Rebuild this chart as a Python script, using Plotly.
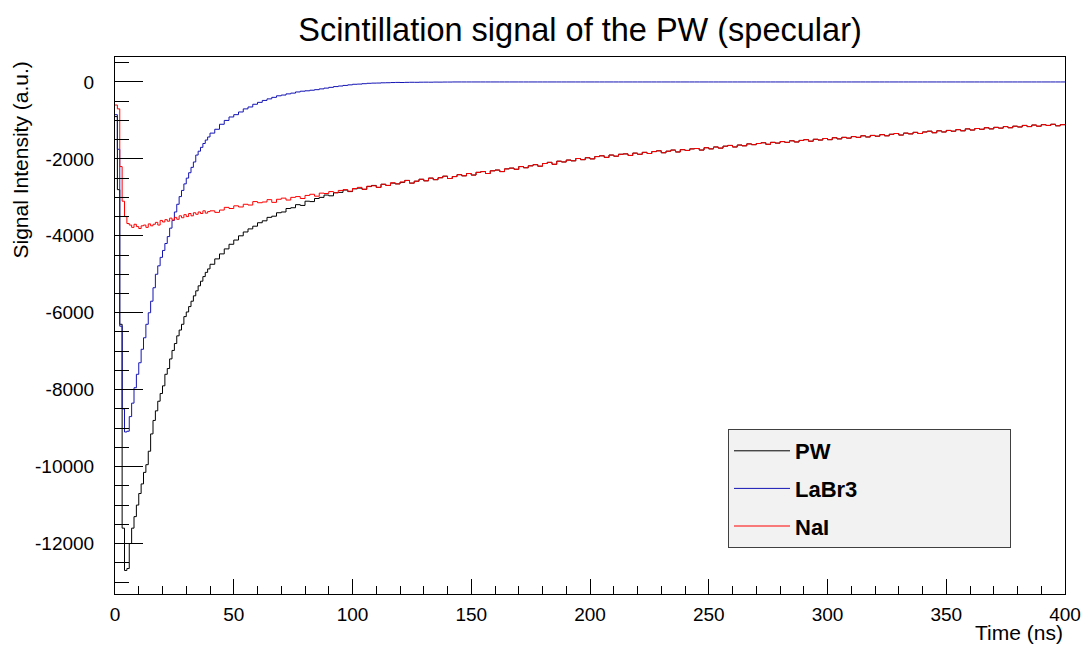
import numpy as np
import plotly.graph_objects as go

# ---------------- data ----------------
# bins: 1 ns wide from 0 to 40 ns, 2 ns wide from 40 to 400 ns
bin_lo_fine = list(range(0, 40, 1))
bin_lo_coarse = list(range(40, 400, 2))
t_end = 400

# LaBr3 (blue)
labr3 = [
    -850, -1750, -6350, -8500, -9100, -9080, -8700, -8350, -7950, -7600,
    -7300, -6950, -6650, -6300, -6000, -5700, -5350, -5000, -4780, -4560,
    -4380, -4200, -4020, -3800, -3600, -3380, -3180, -2980, -2820, -2650,
    -2500, -2360, -2220, -2080, -1900, -1800, -1700, -1600, -1510, -1430,
    # 2 ns bins from 40 ns
    -1330, -1230, -1100, -1000, -910, -850, -780, -700, -650, -580,
    -530, -480, -440, -400, -360, -340, -310, -290, -260, -240,
    -230, -215, -200, -180, -160, -140, -120, -105, -90, -75,
    -60, -55, -45, -35, -30, -28, -22, -20, -15, -12,
    -14, -10, -8, -9, -6, -5, -6, -3, -4, -2,
    -2, 0, 0, 0, 0, 0, 0, 0, 0, 0,
    0, 0, 0, 0, 0, 0, 0, 0, 0, 0,
    0, 0, 0, 0, 0, 0, 0, 0, 0, 0,
    0, 0, 0, 0, 0, 0, 0, 0, 0, 0,
    0, 0, 0, 0, 0, 0, 0, 0, 0, 0,
    0, 0, 0, 0, 0, 0, 0, 0, 0, 0,
    0, 0, 0, 0, 0, 0, 0, 0, 0, 0,
    0, 0, 0, 0, 0, 0, 0, 0, 0, 0,
    0, 0, 0, 0, 0, 0, 0, 0, 0, 0,
    0, 0, 0, 0, 0, 0, 0, 0, 0, 0,
    0, 0, 0, 0, 0, 0, 0, 0, 0, 0,
    0, 0, 0, 0, 0, 0, 0, 0, 0, 0,
    0, 0, 0, 0, 0, 0, 0, 0, 0, 0,
    0, 0, 0, 0, 0, 0, 0, 0, 0,
]

# NaI (red)
nai = [
    -600, -700, -2200, -3100, -3500, -3680, -3720, -3780, -3700, -3760,
    -3810, -3740, -3720, -3780, -3690, -3740, -3700, -3650, -3720, -3600,
    -3640, -3580, -3620, -3540, -3590, -3520, -3570, -3480, -3530, -3450,
    -3500, -3420, -3480, -3400, -3440, -3380, -3420, -3350, -3410, -3370,
    # 2 ns bins from 40 ns
    -3350, -3390, -3330, -3260, -3290, -3220, -3250, -3180, -3200, -3110,
    -3140, -3120, -3060, -3130, -3050, -3020, -3070, -3000, -2980, -3030,
    -2950, -2920, -2970, -2890, -2900, -2850, -2880, -2820, -2800, -2840,
    -2770, -2740, -2790, -2710, -2700, -2740, -2660, -2690, -2620, -2650,
    -2600, -2560, -2630, -2580, -2530, -2570, -2500, -2540, -2490, -2450,
    -2510, -2460, -2410, -2440, -2380, -2420, -2350, -2330, -2380, -2310,
    -2290, -2330, -2260, -2240, -2270, -2200, -2230, -2180, -2150, -2190,
    -2120, -2090, -2140, -2060, -2080, -2030, -2050, -1990, -2020, -1970,
    -2000, -1940, -1920, -1960, -1900, -1930, -1880, -1870, -1910, -1850,
    -1880, -1830, -1860, -1810, -1790, -1840, -1800, -1770, -1820, -1760,
    -1780, -1740, -1730, -1770, -1710, -1740, -1690, -1720, -1670, -1650,
    -1690, -1640, -1660, -1610, -1630, -1600, -1580, -1620, -1570, -1590,
    -1550, -1570, -1530, -1560, -1520, -1500, -1540, -1490, -1510, -1470,
    -1500, -1450, -1480, -1440, -1460, -1420, -1440, -1400, -1430, -1390,
    -1410, -1370, -1400, -1360, -1340, -1380, -1330, -1350, -1310, -1340,
    -1300, -1280, -1320, -1270, -1300, -1260, -1280, -1240, -1270, -1220,
    -1250, -1210, -1230, -1190, -1220, -1180, -1200, -1160, -1190, -1150,
    -1170, -1130, -1160, -1120, -1150, -1110, -1130, -1100, -1140, -1110,
]

# PW (black): early part read separately; from 126 ns on it lies under the NaI curve
pw_early = [
    -900, -2800, -6300, -11600, -12700, -12650, -12000, -11600, -11300, -11000,
    -10700, -10450, -10150, -9950, -9600, -9150, -8800, -8550, -8300, -8100,
    -7900, -7600, -7450, -7200, -6980, -6800, -6600, -6450, -6300, -6100,
    -5980, -5840, -5700, -5560, -5430, -5300, -5180, -5060, -4950, -4860,
    # 2 ns bins from 40 ns to 124 ns
    -4740, -4600, -4470, -4340, -4220, -4110, -4000, -3900, -3820, -3750,
    -3660, -3610, -3520, -3490, -3400, -3380, -3290, -3270, -3190, -3210,
    -3100, -3110, -3030, -3000, -2940, -2960, -2880, -2870, -2810, -2850,
    -2780, -2760, -2790, -2720, -2690, -2740, -2660, -2690, -2630, -2650,
    -2610, -2560, -2630,
]
pw = pw_early + nai[len(pw_early):]

series_names = ["PW", "LaBr3", "NaI"]
series_values = [pw, labr3, nai]
series_colors = ["#000000", "#1414b4", "#ff0000"]

y_tick_vals = [0, -2000, -4000, -6000, -8000, -10000, -12000]
y_tick_text = ["0", "-2000", "-4000", "-6000", "-8000", "-10000", "-12000"]
x_tick_vals = [0, 50, 100, 150, 200, 250, 300, 350, 400]
x_tick_text = ["0", "50", "100", "150", "200", "250", "300", "350", "400"]

# ---------------- figure ----------------
bin_lo = bin_lo_fine + bin_lo_coarse
x_steps = bin_lo + [t_end]

fig = go.Figure()
pad = "\u00a0" * 24
for name, vals, col in zip(series_names, series_values, series_colors):
    fig.add_trace(go.Scatter(
        x=x_steps, y=list(vals) + [vals[-1]],
        mode="lines", line=dict(shape="hv", color=col, width=1),
        name=name + pad, legendgroup=name,
    ))

fig.update_layout(
    width=1087, height=648, autosize=False,
    margin=dict(l=115, r=22, t=57, b=54, autoexpand=False),
    paper_bgcolor="white", plot_bgcolor="white",
    font=dict(family="Liberation Sans, Arial, sans-serif", color="black"),
    title=dict(text="Scintillation signal of the PW (specular)",
               x=580 / 1087, xanchor="center", xref="container",
               y=1 - 30 / 648, yanchor="middle", yref="container",
               font=dict(size=32.5, color="black")),
    showlegend=True,
    legend=dict(x=(728 - 115) / 950, y=(594 - 429) / 537,
                xanchor="left", yanchor="top",
                bgcolor="#f2f2f2", bordercolor="#404040", borderwidth=1,
                font=dict(size=22, weight="bold", color="black"),
                itemwidth=56, traceorder="grouped", tracegroupgap=6),
)

fig.update_xaxes(
    range=[0, 400], tickmode="array", tickvals=x_tick_vals, ticktext=x_tick_text,
    ticks="inside", ticklen=15, tickcolor="black", tickwidth=1,
    minor=dict(tickmode="linear", tick0=0, dtick=10, ticks="inside",
               ticklen=8, tickcolor="black", tickwidth=1),
    showline=True, linecolor="black", linewidth=1, mirror=True,
    showgrid=False, zeroline=False, tickfont=dict(size=19),
    ticklabelstandoff=3, automargin=False,
)
fig.update_yaxes(
    range=[-13312, 649], tickmode="array", tickvals=y_tick_vals, ticktext=y_tick_text,
    ticks="inside", ticklen=28, tickcolor="black", tickwidth=1,
    minor=dict(tickmode="linear", tick0=0, dtick=500, ticks="inside",
               ticklen=14, tickcolor="black", tickwidth=1),
    showline=True, linecolor="black", linewidth=1, mirror=True,
    showgrid=False, zeroline=False, tickfont=dict(size=19),
    ticklabelstandoff=16, automargin=False,
)

fig.add_annotation(text="Signal Intensity (a.u.)", textangle=-90,
                   xref="paper", yref="paper", x=(20 - 115) / 950, y=(594 - 60) / 537,
                   xanchor="center", yanchor="top", showarrow=False,
                   font=dict(size=21, color="black"))
fig.add_annotation(text="Time (ns)", xref="paper", yref="paper",
                   x=1, y=(594 - 632) / 537, xanchor="right", yanchor="middle",
                   showarrow=False, font=dict(size=21, color="black"))

fig.write_html("out.html")
